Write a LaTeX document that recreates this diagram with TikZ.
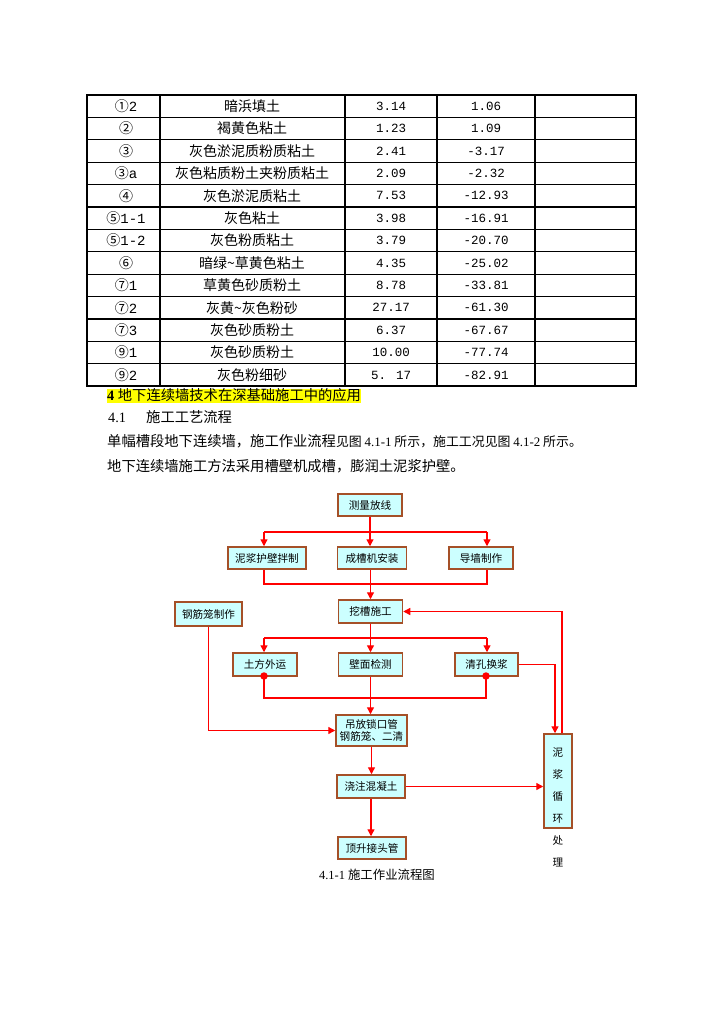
\documentclass[tikz,border=0pt]{standalone}
\usepackage{fontspec}
\setmainfont{Liberation Serif}
\newfontfamily\cjk{Noto Sans CJK SC}
\newfontfamily\mono{Liberation Mono}
\usetikzlibrary{arrows.meta,calc}
\definecolor{boxcyan}{RGB}{204,255,255}
\definecolor{boxbrown}{RGB}{165,80,40}
\definecolor{hlyellow}{RGB}{255,255,0}
\tikzset{
  cell/.style={inner sep=0pt, font=\cjk\fontsize{14}{16}\selectfont},
  numcell/.style={inner sep=0pt, font=\mono\fontsize{12.5}{14}\selectfont},
  fbox/.style={draw=boxbrown, line width=1.5pt, fill=boxcyan, inner sep=0pt,
    align=center, font=\cjk\fontsize{10.6}{12}\selectfont},
  conn/.style={draw=red, line width=1.3pt},
  arr/.style={conn, -{Triangle[length=7pt,width=7pt]}},
  reddot/.style={circle, fill=red, inner sep=0pt, minimum size=7.5pt},
  bodytext/.style={anchor=west, inner sep=0pt},
}
\begin{document}
\begin{tikzpicture}[x=1pt,y=-1pt]
\useasboundingbox (0,0) rectangle (724,1024);
% ---------------- table ----------------
\foreach \k in {1,...,12}{
  \draw[line width=1.2pt] (87,{95+22.4*\k}) -- (636,{95+22.4*\k});
}
\foreach \x in {160,345,437,535}{
  \draw[line width=1.1pt] (\x,95) -- (\x,386);
}
\draw[line width=1.9pt] (87,95) rectangle (636,386);
\foreach \i/\a/\b/\c/\d in {
  0/{①{\mono 2}}/{暗浜填土}/{3.14}/{1.06},
  1/{②}/{褐黄色粘土}/{1.23}/{1.09},
  2/{③}/{灰色淤泥质粉质粘土}/{2.41}/{-3.17},
  3/{③{\mono a}}/{灰色粘质粉土夹粉质粘土}/{2.09}/{-2.32},
  4/{④}/{灰色淤泥质粘土}/{7.53}/{-12.93},
  5/{⑤{\mono 1-1}}/{灰色粘土}/{3.98}/{-16.91},
  6/{⑤{\mono 1-2}}/{灰色粉质粘土}/{3.79}/{-20.70},
  7/{⑥}/{暗绿\textasciitilde 草黄色粘土}/{4.35}/{-25.02},
  8/{⑦{\mono 1}}/{草黄色砂质粉土}/{8.78}/{-33.81},
  9/{⑦{\mono 2}}/{灰黄\textasciitilde 灰色粉砂}/{27.17}/{-61.30},
  10/{⑦{\mono 3}}/{灰色砂质粉土}/{6.37}/{-67.67},
  11/{⑨{\mono 1}}/{灰色砂质粉土}/{10.00}/{-77.74},
  12/{⑨{\mono 2}}/{灰色粉细砂}/{5. 17}/{-82.91}}{
  \node[cell] (ca\i) at (126,{95+22.4*(\i+0.5)}) {\a};
  \node[cell] (cb\i) at (252,{95+22.4*(\i+0.5)}) {\b};
  \node[numcell] (cc\i) at (391,{95+22.4*(\i+0.5)}) {\c};
  \node[numcell] (cd\i) at (486,{95+22.4*(\i+0.5)}) {\d};
}
% ---------------- body text ----------------
\node[bodytext, fill=hlyellow, text height=11pt, text depth=2.5pt,
  font=\fontsize{14.3}{16}\selectfont] (h1) at (107,396)
  {{\bfseries 4} {\cjk 地下连续墙技术在深基础施工中的应用}};
\node[bodytext, font=\fontsize{14.3}{16}\selectfont] (h2) at (108,417)
  {\makebox[38pt][l]{4.1}{\cjk 施工工艺流程}};
\node[bodytext, font=\cjk\fontsize{14.3}{16}\selectfont] (l3) at (107,441)
  {单幅槽段地下连续墙，施工作业流程{\fontsize{12.9}{14}\selectfont 见图 {\rmfamily 4.1-1} 所示，施工工况见图 {\rmfamily 4.1-2} 所示。}};
\node[bodytext, font=\cjk\fontsize{14.3}{16}\selectfont] (l4) at (107,466)
  {地下连续墙施工方法采用槽壁机成槽，膨润土泥浆护壁。};
% ---------------- flowchart nodes ----------------
\node[fbox, minimum width=64pt, minimum height=22pt] (m1) at (370,505) {测量放线};
\node[fbox, minimum width=78pt, minimum height=22pt] (a1) at (267,558) {泥浆护壁拌制};
\node[fbox, minimum width=69pt, minimum height=22pt] (a2) at (372,558) {成槽机安装};
\node[fbox, minimum width=64pt, minimum height=22pt] (a3) at (481,558) {导墙制作};
\node[fbox, minimum width=64pt, minimum height=23pt] (wc) at (370.5,611.5) {挖槽施工};
\node[fbox, minimum width=67pt, minimum height=24pt] (gj) at (208.5,614) {钢筋笼制作};
\node[fbox, minimum width=64pt, minimum height=23pt] (b1) at (265,664.5) {土方外运};
\node[fbox, minimum width=64pt, minimum height=23pt] (b2) at (370.5,664.5) {壁面检测};
\node[fbox, minimum width=63pt, minimum height=23pt] (b3) at (486.5,664.5) {清孔换浆};
\node[fbox, minimum width=71pt, minimum height=31pt] (dz) at (371.5,730.5) {吊放锁口管\\钢筋笼、二清};
\node[fbox, minimum width=68pt, minimum height=23pt] (jz) at (371,786.5) {浇注混凝土};
\node[fbox, minimum width=68pt, minimum height=22pt] (ds) at (372,848) {顶升接头管};
\node[fbox, minimum width=28pt, minimum height=94pt] (nj) at (558,781) {};
\node[inner sep=0pt, align=center, font=\cjk\fontsize{10.6}{22}\selectfont] (njt) at (558,807)
  {泥\\浆\\循\\环\\处\\理};
\node[inner sep=0pt, font=\fontsize{12.4}{14}\selectfont] (cap) at (377,875)
  {4.1-1 {\cjk 施工作业流程图}};
% ---------------- connectors ----------------
\coordinate (j1) at (370,532);
\coordinate (j1l) at (264,532);
\coordinate (j1r) at (487,532);
\coordinate (j2l) at (264,584);
\coordinate (j2r) at (487,584);
\coordinate (j3) at (370.5,638);
\coordinate (j3l) at (264,638);
\coordinate (j3r) at (487,638);
\coordinate (j4l) at (264,698);
\coordinate (j4r) at (486,698);
\draw[arr] (m1.south) -- (m1.south |- a2.north);
\draw[conn] (j1l) -- (j1r);
\draw[arr] (j1l) -- (j1l |- a1.north);
\draw[arr] (j1r) -- (j1r |- a3.north);
\draw[conn] (j1l |- a1.south) -- (j2l) -- (j2r) -- (j1r |- a3.south);
\draw[arr] (wc.north |- a2.south) -- (wc.north);
\draw[conn] (wc.south) -- (j3);
\draw[conn] (j3l) -- (j3r);
\draw[arr] (j3l) -- (j3l |- b1.north);
\draw[arr] (j3) -- (b2.north);
\draw[arr] (j3r) -- (j3r |- b3.north);
\node[reddot] (d1) at (264,676) {};
\node[reddot] (d2) at (486,676) {};
\draw[conn] (d1.center) -- (j4l) -- (j4r) -- (d2.center);
\draw[arr] (b2.south) -- (b2.south |- dz.north);
\draw[arr] (gj.south) |- (dz.west);
\draw[arr] (b3.east) -| ([xshift=-3pt]nj.north);
\draw[arr] ([xshift=4pt]nj.north) |- (wc.east);
\draw[arr] (dz.south) -- (dz.south |- jz.north);
\draw[arr] (jz.east) -- (jz.east -| nj.west);
\draw[arr] (jz.south) -- (jz.south |- ds.north);
\end{tikzpicture}
\end{document}
